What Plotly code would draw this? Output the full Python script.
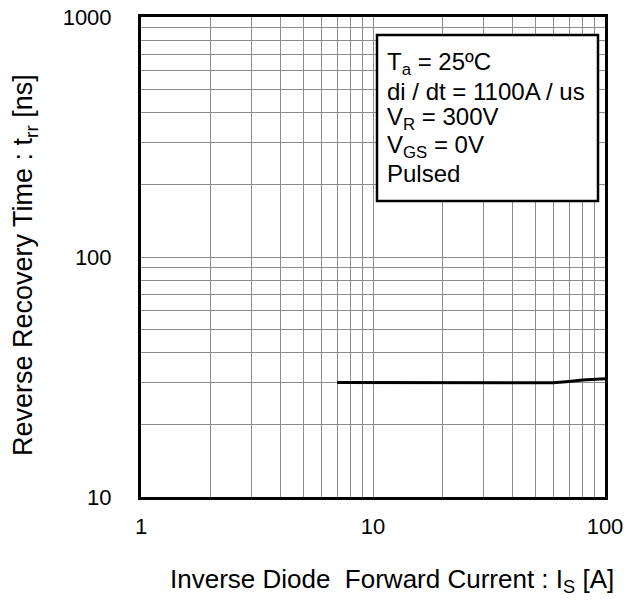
import plotly.graph_objects as go

current_a = [7, 10, 20, 30, 40, 50, 60, 70, 80, 100]
trr_ns = [30.0, 30.0, 30.0, 30.0, 30.0, 29.9, 29.9, 30.3, 30.7, 31.1]

x_ticks = [1, 10, 100]
x_tick_text = ["1", "10", "100"]
y_ticks = [10, 100, 1000]
y_tick_text = ["10", "100", "1000"]

cond_lines = [
    "T<sub>a</sub> = 25ºC",
    "di / dt = 1100A / us",
    "V<sub>R</sub> = 300V",
    "V<sub>GS</sub> = 0V",
    "Pulsed",
]

x_title = "Inverse Diode\u00a0 Forward Current : I<sub>S</sub> [A]"
y_title = "Reverse Recovery Time : t<sub>rr</sub> [ns]"

FONT = "Liberation Sans, Arial, sans-serif"
W, H = 635, 613
ML, MR, MT, MB = 141, 30, 17, 116
PW, PH = W - ML - MR, H - MT - MB


def px_x(px):
    return (px - ML) / PW


def px_y(py):
    return 1 - (py - MT) / PH


fig = go.Figure()
fig.add_trace(go.Scatter(x=current_a, y=trr_ns, mode="lines",
                         line=dict(color="black", width=3), showlegend=False))

axis_common = dict(
    type="log", automargin=False,
    showgrid=True, gridcolor="#8c8c8c", gridwidth=1,
    minor=dict(showgrid=True, gridcolor="#8c8c8c", gridwidth=1, dtick="D1"),
    showline=True, linecolor="black", linewidth=3, mirror=True,
    ticks="", zeroline=False,
    tickfont=dict(family=FONT, size=22, color="black"),
)

fig.update_xaxes(range=[0, 2], tickvals=x_ticks, ticktext=x_tick_text,
                 ticklabelstandoff=8, **axis_common)
fig.update_yaxes(range=[1, 3], tickvals=y_ticks, ticktext=y_tick_text,
                 ticklabelstandoff=22, **axis_common)

# axis titles
fig.add_annotation(xref="paper", yref="paper", x=px_x(392), y=px_y(580),
                   xanchor="center", yanchor="middle", text=x_title,
                   showarrow=False, font=dict(family=FONT, size=26, color="black"))
fig.add_annotation(xref="paper", yref="paper", x=px_x(25), y=px_y(265),
                   xanchor="center", yanchor="middle", text=y_title, textangle=-90,
                   showarrow=False, font=dict(family=FONT, size=27, color="black"))

# condition box
fig.add_shape(type="rect", xref="paper", yref="paper",
              x0=px_x(377), x1=px_x(598), y0=px_y(201), y1=px_y(35),
              line=dict(color="black", width=2.5), fillcolor="white", layer="above")

baselines = [71.7, 100, 126.7, 155, 181.7]
for txt, b in zip(cond_lines, baselines):
    fig.add_annotation(
        xref="paper", yref="paper", x=px_x(386), y=px_y(b - 8.5),
        xanchor="left", yanchor="middle", text=txt, align="left",
        showarrow=False, borderpad=0,
        font=dict(family=FONT, size=24, color="black"),
    )

fig.update_layout(
    width=W, height=H,
    margin=dict(l=ML, r=MR, t=MT, b=MB),
    plot_bgcolor="white", paper_bgcolor="white",
)

fig.write_html("out.html")
